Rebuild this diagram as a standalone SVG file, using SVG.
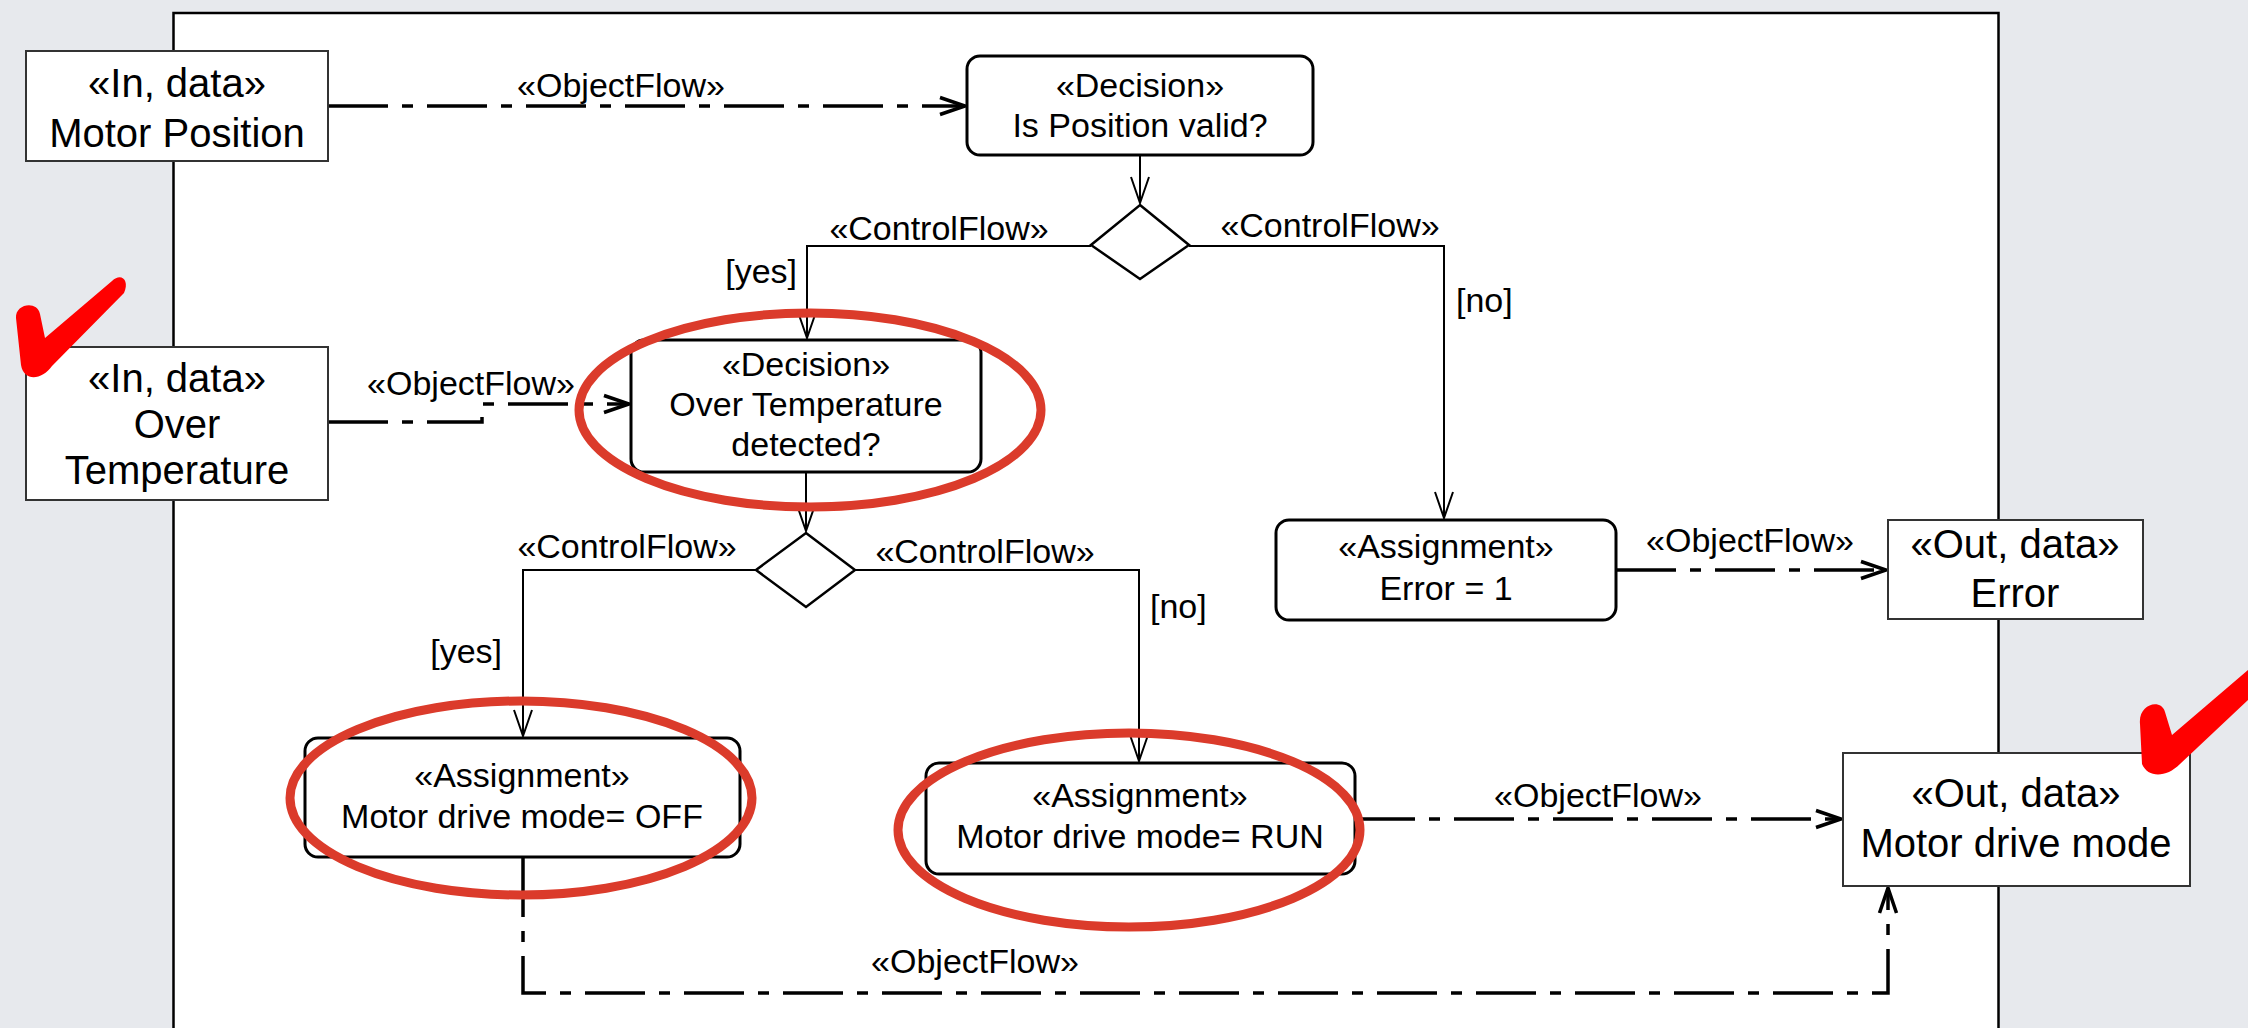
<svg xmlns="http://www.w3.org/2000/svg" width="2248" height="1028" viewBox="0 0 2248 1028">
<defs>
<style>
text{font-family:"Liberation Sans",Arial,Helvetica,sans-serif;fill:#000;text-anchor:middle}
.t{font-size:34px}
.p{font-size:40px}
.lbl{font-size:34px}
.port{fill:#fff;stroke:#333;stroke-width:2}
.act{fill:#fff;stroke:#000;stroke-width:3}
.dia{fill:#fff;stroke:#000;stroke-width:2.5}
.cf{fill:none;stroke:#000;stroke-width:2}
.of{fill:none;stroke:#000;stroke-width:3.5;stroke-dasharray:60 14 11 14}
.ann{fill:none;stroke:#db3b2b;stroke-width:9}
.chk{fill:#ff0000;stroke:none}
</style>
<marker id="ov" markerUnits="userSpaceOnUse" markerWidth="40" markerHeight="30" viewBox="-30 -15 40 30" refX="0" refY="0" orient="auto">
<path d="M -26 -9 L 0 0 L -26 9" fill="none" stroke="#000" stroke-width="2"/>
</marker>
<marker id="oa" markerUnits="userSpaceOnUse" markerWidth="40" markerHeight="30" viewBox="-30 -15 40 30" refX="0" refY="0" orient="auto">
<path d="M -25 -8.5 L 0 0 L -25 8.5" fill="none" stroke="#000" stroke-width="3.5" stroke-dasharray="none"/>
</marker>
</defs>
<rect x="0" y="0" width="2248" height="1028" fill="#e7e9ed"/>
<rect id="frame" x="173.5" y="13" width="1825" height="1040" fill="#fff" stroke="#000" stroke-width="2.5"/>

<g id="connectors">
<path class="of" d="M 328 106 L 965 106" marker-end="url(#oa)"/>
<path class="cf" d="M 1140 155 L 1140 203" marker-end="url(#ov)"/>
<path class="cf" d="M 1091 246 L 807 246 L 807 338" marker-end="url(#ov)"/>
<path class="cf" d="M 1189 246 L 1444 246 L 1444 518" marker-end="url(#ov)"/>
<path class="of" d="M 328 422 L 482 422 L 482 404 L 629 404" marker-end="url(#oa)"/>
<path class="cf" d="M 806 472 L 806 531" marker-end="url(#ov)"/>
<path class="cf" d="M 756 570 L 523 570 L 523 736" marker-end="url(#ov)"/>
<path class="cf" d="M 855 570 L 1139 570 L 1139 761" marker-end="url(#ov)"/>
<path class="of" d="M 1616 570 L 1886 570" marker-end="url(#oa)"/>
<path class="of" d="M 1355 819 L 1841 819" marker-end="url(#oa)"/>
<path class="of" d="M 523 857 L 523 993 L 1888 993 L 1888 888" marker-end="url(#oa)"/>
<text class="lbl" x="621" y="97">«ObjectFlow»</text>
<text class="lbl" x="939" y="240">«ControlFlow»</text>
<text class="lbl" x="1330" y="237">«ControlFlow»</text>
<text class="lbl" x="797" y="283" style="text-anchor:end">[yes]</text>
<text class="lbl" x="1456" y="312" style="text-anchor:start">[no]</text>
<text class="lbl" x="471" y="395">«ObjectFlow»</text>
<text class="lbl" x="627" y="558">«ControlFlow»</text>
<text class="lbl" x="985" y="563">«ControlFlow»</text>
<text class="lbl" x="502" y="663" style="text-anchor:end">[yes]</text>
<text class="lbl" x="1150" y="618" style="text-anchor:start">[no]</text>
<text class="lbl" x="1750" y="552">«ObjectFlow»</text>
<text class="lbl" x="1598" y="807">«ObjectFlow»</text>
<text class="lbl" x="975" y="973">«ObjectFlow»</text>
</g>

<g id="in-motor-position">
<rect class="port" x="26" y="51" width="302" height="110"/>
<text class="p" x="177" y="97">«In, data»</text>
<text class="p" x="177" y="147">Motor Position</text>
</g>

<g id="decision-position-valid">
<rect class="act" x="967" y="56" width="346" height="99" rx="13"/>
<text class="t" x="1140" y="97">«Decision»</text>
<text class="t" x="1140" y="137">Is Position valid?</text>
</g>

<g id="diamond-1">
<path class="dia" d="M 1140 205 L 1189 245 L 1140 279 L 1091 245 Z"/>
</g>

<g id="in-over-temperature">
<rect class="port" x="26" y="347" width="302" height="153"/>
<text class="p" x="177" y="392">«In, data»</text>
<text class="p" x="177" y="438">Over</text>
<text class="p" x="177" y="484">Temperature</text>
</g>

<g id="decision-over-temperature">
<rect class="act" x="631" y="340" width="350" height="132" rx="13"/>
<text class="t" x="806" y="376">«Decision»</text>
<text class="t" x="806" y="416">Over Temperature</text>
<text class="t" x="806" y="456">detected?</text>
</g>

<g id="diamond-2">
<path class="dia" d="M 806 533 L 855 570 L 806 607 L 756 570 Z"/>
</g>

<g id="assign-error">
<rect class="act" x="1276" y="520" width="340" height="100" rx="13"/>
<text class="t" x="1446" y="558">«Assignment»</text>
<text class="t" x="1446" y="600">Error = 1</text>
</g>

<g id="out-error">
<rect class="port" x="1888" y="520" width="255" height="99"/>
<text class="p" x="2015" y="558">«Out, data»</text>
<text class="p" x="2015" y="607">Error</text>
</g>

<g id="assign-off">
<rect class="act" x="305" y="738" width="435" height="119" rx="13"/>
<text class="t" x="522" y="787">«Assignment»</text>
<text class="t" x="522" y="828">Motor drive mode= OFF</text>
</g>

<g id="assign-run">
<rect class="act" x="926" y="763" width="429" height="111" rx="13"/>
<text class="t" x="1140" y="807">«Assignment»</text>
<text class="t" x="1140" y="848">Motor drive mode= RUN</text>
</g>

<g id="out-motor-drive-mode">
<rect class="port" x="1843" y="753" width="347" height="133"/>
<text class="p" x="2016" y="807">«Out, data»</text>
<text class="p" x="2016" y="857">Motor drive mode</text>
</g>

<g id="annotations">
<ellipse class="ann" cx="810" cy="410" rx="231" ry="97"/>
<ellipse class="ann" cx="521" cy="798" rx="231" ry="97"/>
<ellipse class="ann" cx="1129" cy="830" rx="231" ry="97"/>
<path class="chk" d="M 16 318 C 15 304 37 300 40 314 L 45 338 L 112 281 C 121 272 130 280 124 293 L 52 366 C 42 380 24 382 21 365 Z"/>
<path class="chk" d="M 2140 724 C 2138 704 2161 698 2165 712 L 2172 735 L 2248 670 L 2248 700 L 2180 764 C 2166 778 2148 778 2142 764 Z"/>
</g>
</svg>
